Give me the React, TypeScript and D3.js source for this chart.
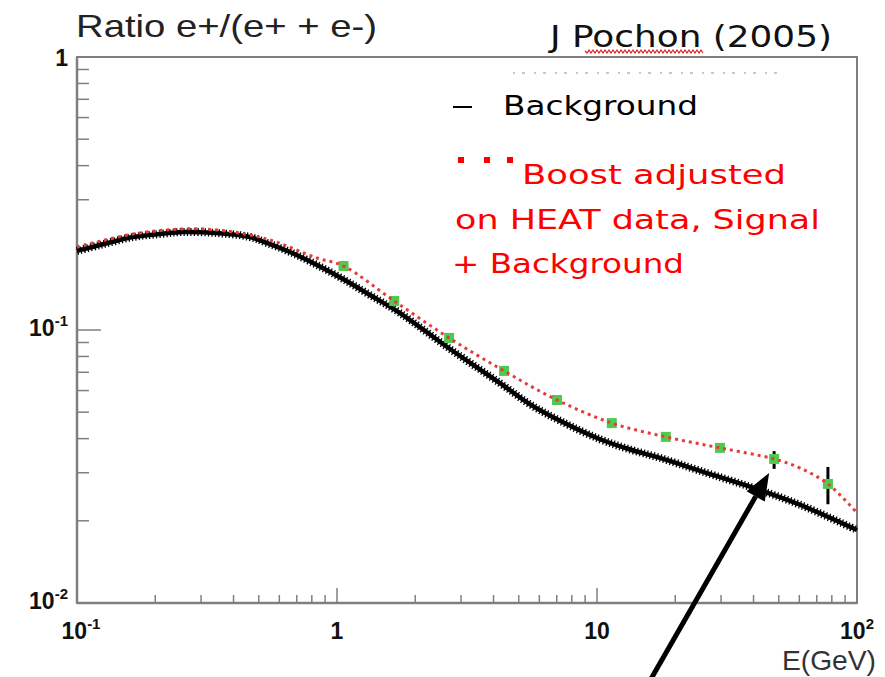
import React from "react";
import * as d3 from "d3";

// ---- data ----
// HEAT-like data points (green squares)
const dataEnergy = [1.06, 1.66, 2.7, 4.39, 7.02, 11.4, 18.4, 29.7, 48.0, 77.3];
const dataRatio = [0.1715, 0.1277, 0.0935, 0.0708, 0.0554, 0.0456, 0.0406, 0.037, 0.0337, 0.0273];
const dataErrLow = [0, 0, 0, 0, 0, 0, 0, 0, 0.0027, 0.0043];
const dataErrHigh = [0, 0, 0, 0, 0, 0, 0, 0, 0.0023, 0.0042];

// Background curve (black)
const bgEnergy = [0.1, 0.1226, 0.1642, 0.2085, 0.2557, 0.3455, 0.4628, 0.5381, 0.6597, 0.8379, 1.0546, 1.339, 1.747, 2.721, 4.236, 5.55, 7.206, 10.27, 13.4, 17.47, 24.9, 42.4, 60.4, 100];
const bgRatio = [0.1948, 0.2048, 0.2191, 0.2247, 0.2286, 0.2266, 0.2191, 0.2083, 0.1931, 0.173, 0.1537, 0.1343, 0.1154, 0.0852, 0.0639, 0.0533, 0.0465, 0.0398, 0.0365, 0.034, 0.0305, 0.0259, 0.0229, 0.0185];

// Signal + background curve (red dotted)
const sigEnergy = [0.1, 0.1642, 0.2557, 0.3455, 0.5381, 0.8379, 1.06, 1.66, 2.7, 4.39, 7.02, 11.4, 18.4, 29.7, 48.0, 60.4, 77.3, 100];
const sigRatio = [0.2014, 0.2247, 0.2344, 0.2325, 0.2154, 0.1835, 0.1715, 0.1277, 0.0935, 0.0708, 0.0554, 0.0456, 0.0406, 0.037, 0.0337, 0.0312, 0.0273, 0.0214];

// axis ticks
const xMajor = [0.1, 1, 10, 100];
const xMajorLabels: [string, string][] = [["10", "-1"], ["1", ""], ["10", ""], ["10", "2"]];
const yMajor = [0.01, 0.1, 1];
const yMajorLabels: [string, string][] = [["10", "-2"], ["10", "-1"], ["1", ""]];

const title = "Ratio e+/(e+ + e-)";
const author = "J Pochon (2005)";
const xTitle = "E(GeV)";
const legendBg = "Background";
const legendSig = ["Boost adjusted", "on HEAT data, Signal", "+ Background"];

const W = 885;
const H = 677;
const L = 77, R = 857, T = 57, B = 603;

export default function App() {
  const x = d3.scaleLog().domain([0.1, 100]).range([L, R]);
  const y = d3.scaleLog().domain([0.01, 1]).range([B, T]);

  const minorX: number[] = [];
  for (const d of [0.1, 1, 10]) for (let k = 2; k <= 9; k++) minorX.push(k * d);
  const minorY: number[] = [];
  for (const d of [0.01, 0.1]) for (let k = 2; k <= 9; k++) minorY.push(k * d);

  const line = d3
    .line<[number, number]>()
    .x((d) => x(d[0]))
    .y((d) => y(d[1]))
    .curve(d3.curveCatmullRom.alpha(0.5));

  const bgPath = line(bgEnergy.map((e, i) => [e, bgRatio[i]]) as [number, number][]) || "";
  const sigPath = line(sigEnergy.map((e, i) => [e, sigRatio[i]]) as [number, number][]) || "";

  const axisColor = "#7f7f7f";
  const comic = "'Comic Sans MS', 'DejaVu Sans', sans-serif";
  const arial = "Arial, 'Liberation Sans', sans-serif";

  // arrow pointing at the 48 GeV data point
  const ai = 8;
  const tipX = x(dataEnergy[ai]) - 5;
  const tipY = y(dataRatio[ai]) + 14;
  const dir = [-117, 204];
  const len = Math.hypot(dir[0], dir[1]);
  const ux = dir[0] / len, uy = dir[1] / len;
  const tailT = (H + 10 - tipY) / uy;
  const tailX = tipX + ux * tailT, tailY = tipY + uy * tailT;
  const headLen = 27, headHalf = 10.5;
  const bx = tipX + ux * headLen, by = tipY + uy * headLen;
  const px = -uy, py = ux;
  const head = `M${tipX},${tipY}L${bx + px * headHalf},${by + py * headHalf}L${bx - px * headHalf},${by - py * headHalf}Z`;

  // wavy underline under "Pochon"
  let wave = "M585,51";
  for (let xx = 585, i = 0; xx < 702; xx += 2, i++) wave += `L${xx + 2},${i % 2 === 0 ? 53 : 50}`;

  return (
    <svg width={W} height={H} style={{ position: "absolute", left: 0, top: 0, background: "#fff" }} xmlns="http://www.w3.org/2000/svg">
      <rect x={0} y={0} width={W} height={H} fill="#fff" />
      {/* title */}
      <text x={76} y={37} fontFamily={arial} fontSize={32} fill="#222" textLength={301} lengthAdjust="spacingAndGlyphs">{title}</text>
      <text x={550} y={47} fontFamily={comic} fontSize={30} fill="#111" textLength={282} lengthAdjust="spacingAndGlyphs">{author}</text>
      <path d={wave} fill="none" stroke="#e02020" strokeWidth={1.2} />

      {/* frame */}
      <rect x={L} y={T} width={R - L} height={B - T} fill="none" stroke={axisColor} strokeWidth={2} />
      {/* faint smudged text line */}
      <line x1={513} x2={785} y1={73} y2={73} stroke="#c8c8c8" strokeWidth={2} strokeDasharray="2 7 3 9" />

      {/* x ticks */}
      {minorX.map((v, i) => (
        <line key={"mx" + i} x1={x(v)} x2={x(v)} y1={B} y2={B - 8} stroke={axisColor} strokeWidth={1.5} />
      ))}
      {xMajor.slice(1, 3).map((v, i) => (
        <line key={"Mx" + i} x1={x(v)} x2={x(v)} y1={B} y2={B - 15} stroke={axisColor} strokeWidth={1.5} />
      ))}
      {/* y ticks */}
      {minorY.map((v, i) => (
        <line key={"my" + i} x1={L} x2={L + 12} y1={y(v)} y2={y(v)} stroke={axisColor} strokeWidth={1.5} />
      ))}
      <line x1={L} x2={L + 24} y1={y(0.1)} y2={y(0.1)} stroke={axisColor} strokeWidth={1.5} />
      <line x1={L} x2={R} y1={B} y2={B} stroke={axisColor} strokeWidth={2.5} />
      <line x1={L} x2={L} y1={T} y2={B} stroke={axisColor} strokeWidth={2.5} />

      {/* x labels */}
      {xMajor.map((v, i) => (
        <text key={"xl" + i} x={x(v) + (i === 0 ? 4 : 0)} y={B + 36} textAnchor="middle" fontFamily={arial} fontWeight="bold" fontSize={23} fill="#111">
          {xMajorLabels[i][0]}
          {xMajorLabels[i][1] && <tspan dy={-10} fontSize={15}>{xMajorLabels[i][1]}</tspan>}
        </text>
      ))}
      {/* y labels */}
      {yMajor.map((v, i) => (
        <text key={"yl" + i} x={68} y={y(v) + (yMajorLabels[i][1] ? 6 : 9)} textAnchor="end" fontFamily={arial} fontWeight="bold" fontSize={23} fill="#111">
          {yMajorLabels[i][0]}
          {yMajorLabels[i][1] && <tspan dy={-10} fontSize={15}>{yMajorLabels[i][1]}</tspan>}
        </text>
      ))}
      <text x={782} y={670} fontFamily={"'Liberation Sans Narrow', " + arial} fontSize={28} fill="#333" textLength={94} lengthAdjust="spacingAndGlyphs">{xTitle}</text>

      {/* background curve */}
      <path d={bgPath} fill="none" stroke="#000" strokeWidth={4.5} />
      <path d={bgPath} fill="none" stroke="#000" strokeWidth={8} strokeDasharray="1.3 2.2" />

      {/* error bars */}
      {dataEnergy.map((e, i) =>
        dataErrLow[i] + dataErrHigh[i] > 0 ? (
          <line key={"eb" + i} x1={x(e)} x2={x(e)} y1={y(dataRatio[i] - dataErrLow[i])} y2={y(dataRatio[i] + dataErrHigh[i])} stroke="#000" strokeWidth={3} />
        ) : null
      )}
      {/* data points */}
      {dataEnergy.map((e, i) => (
        <rect key={"pt" + i} x={x(e) - 5} y={y(dataRatio[i]) - 5} width={10} height={10} fill="#4fca4f" />
      ))}

      {/* signal + background */}
      <path d={sigPath} fill="none" stroke="#e43b3b" strokeWidth={3} strokeDasharray="3 4" />

      {/* legend */}
      <line x1={453} x2={472} y1={107} y2={107} stroke="#000" strokeWidth={2} />
      <text x={503} y={115} fontFamily={comic} fontSize={27} fill="#000" textLength={195} lengthAdjust="spacingAndGlyphs">{legendBg}</text>
      {[458, 484, 507].map((lx, i) => (
        <rect key={"lg" + i} x={lx} y={157} width={6} height={6} fill="#ff0000" />
      ))}
      <text x={522} y={184} fontFamily={comic} fontSize={27} fill="#ff0000" textLength={264} lengthAdjust="spacingAndGlyphs">{legendSig[0]}</text>
      <text x={455} y={229} fontFamily={comic} fontSize={27} fill="#ff0000" textLength={365} lengthAdjust="spacingAndGlyphs">{legendSig[1]}</text>
      <text x={452} y={273} fontFamily={comic} fontSize={27} fill="#ff0000" textLength={232} lengthAdjust="spacingAndGlyphs">{legendSig[2]}</text>

      {/* arrow */}
      <line x1={tailX} y1={tailY} x2={bx} y2={by} stroke="#000" strokeWidth={5} />
      <path d={head} fill="#000" />
    </svg>
  );
}
